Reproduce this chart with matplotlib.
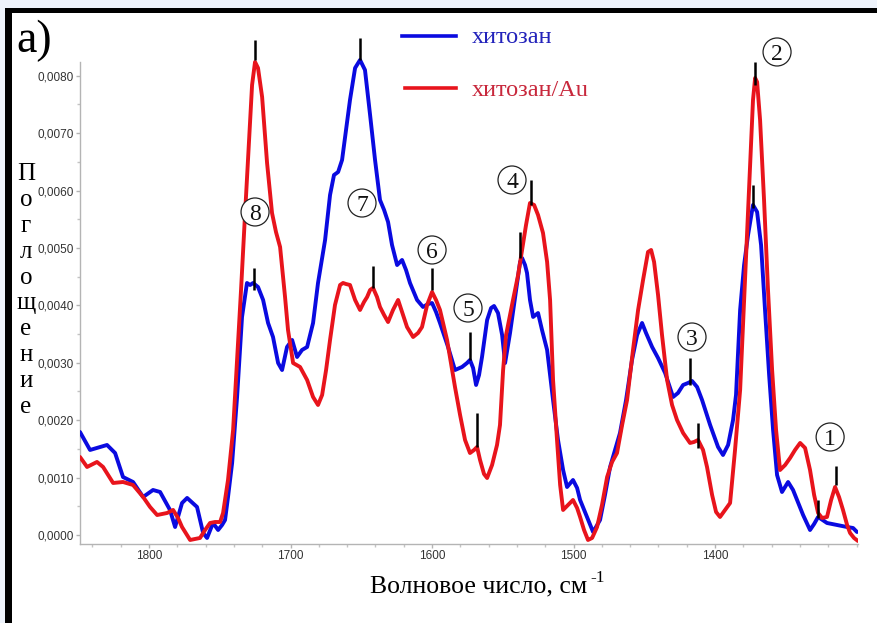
import matplotlib
matplotlib.use('Agg')
import matplotlib.pyplot as plt
import numpy as np
from matplotlib.patches import Rectangle, Ellipse
from matplotlib.lines import Line2D
from matplotlib.ticker import FixedLocator, MultipleLocator, FuncFormatter

# ---------------- data (wavenumber, cm^-1 ; absorbance x 1e-3) ----------------
wn_blue = [1848.8, 1841.7, 1834.6, 1829.7, 1824.0, 1818.4, 1811.3, 1804.2, 1797.2, 1792.2,
           1785.2, 1781.6, 1776.7, 1773.1, 1766.1, 1761.8, 1759.0, 1754.8, 1751.2, 1748.4,
           1746.3, 1744.2, 1741.3, 1737.8, 1734.3, 1730.8, 1728.6, 1726.5, 1723.0, 1719.4,
           1715.9, 1712.4, 1708.8, 1706.0, 1702.5, 1698.9, 1695.4, 1691.9, 1688.3, 1684.1,
           1680.6, 1675.6, 1672.1, 1669.3, 1666.4, 1663.6, 1660.8, 1658.0, 1654.4, 1650.9,
           1647.4, 1643.8, 1640.3, 1636.8, 1633.9, 1631.1, 1628.3, 1624.7, 1621.2, 1618.4,
           1615.6, 1610.6, 1606.4, 1602.8, 1600.0, 1597.2, 1594.4, 1588.7, 1583.8, 1578.8,
           1575.3, 1573.2, 1571.0, 1568.9, 1566.8, 1564.7, 1561.1, 1558.3, 1556.2, 1553.4,
           1550.5, 1548.4, 1546.3, 1544.9, 1542.1, 1539.9, 1537.8, 1536.4, 1534.3, 1532.9,
           1530.8, 1528.6, 1525.1, 1522.3, 1518.7, 1514.5, 1511.0, 1507.4, 1504.6, 1500.4,
           1497.5, 1495.4, 1490.5, 1486.2, 1481.3, 1477.8, 1474.2, 1470.7, 1467.2, 1462.9,
           1458.7, 1455.1, 1451.6, 1448.8, 1444.5, 1440.3, 1435.3, 1431.8, 1429.7, 1426.2,
           1422.6, 1419.1, 1416.3, 1412.7, 1409.2, 1403.5, 1397.9, 1394.4, 1390.8, 1387.3,
           1385.2, 1382.3, 1379.5, 1376.7, 1373.2, 1370.3, 1367.5, 1364.7, 1361.8, 1359.0,
           1356.2, 1352.7, 1348.4, 1344.9, 1342.1, 1337.8, 1332.9, 1330.0, 1327.2, 1320.9,
           1313.8, 1306.7, 1302.5, 1299.7]
abs_blue_milli = [1.794, 1.481, 1.533, 1.568, 1.428, 1.010, 0.923, 0.662, 0.784, 0.749,
                  0.436, 0.139, 0.557, 0.645, 0.488, 0.035, -0.052, 0.209, 0.087, 0.174,
                  0.261, 0.662, 1.254, 2.404, 3.798, 4.390, 4.355, 4.390, 4.320, 4.094,
                  3.693, 3.449, 2.996, 2.874, 3.275, 3.397, 3.101, 3.223, 3.275, 3.693,
                  4.390, 5.139, 5.923, 6.271, 6.323, 6.533, 7.055, 7.578, 8.135, 8.275,
                  8.100, 7.316, 6.533, 5.836, 5.662, 5.452, 5.052, 4.703, 4.791, 4.616,
                  4.390, 4.094, 3.972, 4.024, 4.041, 3.885, 3.693, 3.275, 2.874, 2.927,
                  2.996, 3.049, 2.909, 2.613, 2.787, 3.101, 3.745, 3.954, 3.989, 3.867,
                  3.484, 2.996, 3.310, 3.519, 4.007, 4.390, 4.756, 4.825, 4.703, 4.564,
                  4.094, 3.798, 3.867, 3.571, 3.223, 2.352, 1.655, 1.132, 0.836, 0.958,
                  0.819, 0.610, 0.314, 0.052, 0.261, 0.697, 1.185, 1.481, 1.777, 2.352,
                  3.049, 3.484, 3.693, 3.519, 3.275, 3.083, 2.822, 2.561, 2.404, 2.474,
                  2.613, 2.648, 2.683, 2.578, 2.352, 1.916, 1.533, 1.394, 1.568, 2.003,
                  2.439, 3.920, 4.703, 5.226, 5.749, 5.627, 5.052, 3.920, 2.787, 1.829,
                  1.045, 0.749, 0.923, 0.784, 0.610, 0.348, 0.087, 0.192, 0.314, 0.209,
                  0.174, 0.139, 0.122, 0.052]

wn_red = [1848.8, 1843.8, 1836.8, 1832.5, 1825.4, 1818.4, 1811.3, 1804.2, 1799.3, 1794.3,
          1787.3, 1783.0, 1779.5, 1776.7, 1771.0, 1764.0, 1760.4, 1756.9, 1753.4, 1749.8,
          1747.7, 1744.2, 1740.6, 1737.8, 1735.0, 1732.2, 1729.3, 1727.2, 1725.1, 1723.0,
          1720.1, 1716.6, 1713.1, 1710.3, 1707.4, 1703.9, 1701.8, 1698.2, 1693.3, 1688.3,
          1684.1, 1680.6, 1677.7, 1674.9, 1672.1, 1668.6, 1665.0, 1662.9, 1660.8, 1658.0,
          1654.4, 1650.9, 1648.1, 1645.9, 1643.8, 1641.7, 1638.9, 1636.8, 1633.9, 1631.1,
          1627.6, 1624.0, 1621.2, 1617.7, 1613.4, 1609.9, 1607.1, 1603.5, 1600.0, 1597.2,
          1594.4, 1589.4, 1583.8, 1580.2, 1576.7, 1573.2, 1570.3, 1568.2, 1566.1, 1563.3,
          1561.1, 1557.6, 1554.1, 1552.0, 1549.8, 1547.7, 1544.9, 1542.8, 1539.2, 1536.4,
          1533.6, 1530.8, 1527.9, 1525.1, 1521.6, 1518.7, 1516.6, 1514.5, 1511.7, 1509.5,
          1507.4, 1503.9, 1500.4, 1497.5, 1495.4, 1492.6, 1489.8, 1486.9, 1483.4, 1479.9,
          1476.3, 1472.8, 1469.3, 1465.7, 1462.2, 1458.0, 1454.4, 1450.9, 1447.4, 1445.2,
          1443.1, 1440.3, 1437.5, 1433.9, 1430.4, 1426.9, 1422.6, 1417.7, 1414.9, 1412.0,
          1408.5, 1405.7, 1402.1, 1399.3, 1396.5, 1392.9, 1389.4, 1385.9, 1382.3, 1379.5,
          1376.7, 1374.6, 1373.2, 1371.7, 1370.3, 1368.2, 1365.4, 1362.6, 1359.7, 1356.9,
          1354.1, 1350.5, 1347.0, 1343.5, 1339.9, 1336.4, 1332.9, 1330.0, 1327.2, 1324.4,
          1320.9, 1318.0, 1315.2, 1312.4, 1309.6, 1306.7, 1304.6, 1301.8, 1299.0]
abs_red_milli = [1.359, 1.185, 1.272, 1.185, 0.906, 0.923, 0.871, 0.662, 0.488, 0.348,
                 0.383, 0.436, 0.296, 0.139, -0.087, -0.052, 0.087, 0.209, 0.226, 0.226,
                 0.383, 0.958, 1.829, 3.049, 4.268, 5.574, 6.881, 7.839, 8.240, 8.135,
                 7.630, 6.480, 5.609, 5.278, 5.017, 4.146, 3.571, 2.996, 2.927, 2.700,
                 2.404, 2.265, 2.439, 2.874, 3.397, 4.007, 4.355, 4.390, 4.372, 4.355,
                 4.094, 3.920, 4.059, 4.146, 4.268, 4.303, 4.146, 3.972, 3.832, 3.710,
                 3.920, 4.094, 3.885, 3.623, 3.449, 3.519, 3.623, 4.007, 4.233, 4.094,
                 3.920, 3.397, 2.578, 2.090, 1.655, 1.428, 1.481, 1.533, 1.307, 1.063,
                 0.993, 1.219, 1.568, 1.916, 2.874, 3.484, 3.832, 4.094, 4.529, 4.965,
                 5.400, 5.783, 5.749, 5.574, 5.261, 4.756, 4.094, 2.700, 1.655, 0.871,
                 0.436, 0.523, 0.610, 0.470, 0.314, 0.087, -0.087, -0.052, 0.139, 0.523,
                 1.010, 1.272, 1.428, 1.916, 2.352, 3.223, 3.920, 4.442, 4.930, 4.965,
                 4.756, 4.181, 3.484, 2.700, 2.265, 2.003, 1.777, 1.603, 1.620, 1.655,
                 1.481, 1.185, 0.697, 0.401, 0.314, 0.436, 0.557, 1.481, 2.526, 4.094,
                 5.662, 6.881, 7.578, 7.961, 7.891, 7.229, 5.836, 4.268, 2.874, 1.829,
                 1.132, 1.219, 1.341, 1.481, 1.603, 1.516, 1.132, 0.697, 0.383, 0.296,
                 0.314, 0.610, 0.836, 0.662, 0.436, 0.174, 0.035, -0.052, -0.105]

series_labels = ['хитозан', 'хитозан/Au']
x_ticks = [1800, 1700, 1600, 1500, 1400]
y_ticks = [0.0000, 0.0010, 0.0020, 0.0030, 0.0040, 0.0050, 0.0060, 0.0070, 0.0080]
y_minor_ticks = [0.0005, 0.0015, 0.0025, 0.0035, 0.0045, 0.0055, 0.0065, 0.0075]

# peak markers: (wavenumber, lower absorbance, upper absorbance) x 1e-3
peak_marks = [(1725.1, 8.28, 8.62), (1725.8, 4.27, 4.65), (1650.9, 8.28, 8.66),
              (1641.7, 4.30, 4.69), (1600.0, 4.27, 4.65), (1573.2, 3.05, 3.54),
              (1568.2, 1.53, 2.13), (1537.8, 4.83, 5.28), (1530.1, 5.75, 6.18),
              (1417.7, 2.61, 3.08), (1412.0, 1.52, 1.95), (1371.7, 7.84, 8.24),
              (1373.2, 5.70, 6.10), (1314.5, 0.87, 1.20), (1327.2, 0.30, 0.61)]
# circled band numbers: (label, wavenumber, absorbance x 1e-3)
band_labels = [('1', 1318.7, 1.707), ('2', 1356.2, 8.414), ('3', 1416.3, 3.449),
               ('4', 1543.5, 6.184), ('5', 1574.6, 3.954), ('6', 1600.0, 4.965),
               ('7', 1649.5, 5.783), ('8', 1725.1, 5.627)]

# ---------------- figure ----------------
W, H = 877, 623
fig = plt.figure(figsize=(W / 100, H / 100), dpi=100)
fig.patch.set_facecolor('#eef3fb')

def fx(x):
    return x / W

def fy(y):
    return 1 - y / H

SERIF = ['Liberation Serif', 'DejaVu Serif']
SANS = ['Liberation Sans', 'DejaVu Sans']
BLUE = '#0a0ae0'
RED = '#e8141c'

# white panel with black top/left frame
fig.patches.append(Rectangle((fx(5), 0), 1 - fx(5), fy(8), transform=fig.transFigure,
                             facecolor='white', edgecolor='none', zorder=-2))
fig.patches.append(Rectangle((fx(5), fy(13)), 1 - fx(5), 5 / H, transform=fig.transFigure,
                             facecolor='black', edgecolor='none', zorder=-1))
fig.patches.append(Rectangle((fx(5), 0), 7 / W, fy(8), transform=fig.transFigure,
                             facecolor='black', edgecolor='none', zorder=-1))

ax = fig.add_axes([fx(80), fy(544), fx(858) - fx(80), (544 - 30) / H])
ax.patch.set_alpha(0)

ax.plot(wn_blue, np.array(abs_blue_milli) * 1e-3, color=BLUE, lw=2.8,
        solid_joinstyle='round', solid_capstyle='round', zorder=3)
ax.plot(wn_red, np.array(abs_red_milli) * 1e-3, color=RED, lw=2.8,
        solid_joinstyle='round', solid_capstyle='round', zorder=4)

for w, lo, hi in peak_marks:
    ax.plot([w, w], [lo * 1e-3, hi * 1e-3], color='black', lw=1.8, zorder=5,
            solid_capstyle='butt')

ax.set_xlim(1848.8, 1299.0)
ax.set_ylim(-0.000157, 0.008797)

# circled numbers
cw = 28 * 0.7067
ch = 28 * 0.01742e-3
for lab, w, a in band_labels:
    ax.add_patch(Ellipse((w, a * 1e-3), cw, ch, facecolor='white', edgecolor='#222222',
                         lw=0.9, zorder=6))
    ax.text(w, a * 1e-3, lab, ha='center', va='center_baseline', fontsize=17,
            family=SERIF, color='#111111', zorder=7)

# axes styling
for s in ['top', 'right']:
    ax.spines[s].set_visible(False)
for s in ['left', 'bottom']:
    ax.spines[s].set_color('#b4b4b4')
    ax.spines[s].set_linewidth(1.0)
ax.spines['left'].set_bounds(-0.000157, 0.00824)

ax.xaxis.set_major_locator(FixedLocator(x_ticks))
ax.xaxis.set_minor_locator(MultipleLocator(20))
ax.yaxis.set_major_locator(FixedLocator(y_ticks))
ax.yaxis.set_minor_locator(FixedLocator(y_minor_ticks))
ax.yaxis.set_major_formatter(FuncFormatter(lambda v, p: f"{v:.4f}".replace('.', ',')))
ax.xaxis.set_major_formatter(FuncFormatter(lambda v, p: f"{v:.0f}"))
ax.tick_params(axis='both', which='major', length=3, width=1, color='#b4b4b4',
               labelsize=8.5, labelcolor='#333333', pad=1.5)
ax.tick_params(axis='both', which='minor', length=2, width=1, color='#c4c4c4')
for lbl in ax.get_xticklabels() + ax.get_yticklabels():
    lbl.set_family(SANS)

# panel letter
fig.text(fx(16), fy(52), 'а)', fontsize=33, family=SERIF, va='baseline', ha='left')

# vertical stacked y label
ylabel = 'Поглощение'
for i, ch_ in enumerate(ylabel):
    fig.text(fx(26), fy(180 + i * 25.9), ch_, fontsize=18, family=SERIF,
             ha='center', va='baseline')

# x label with superscript
renderer = fig.canvas.get_renderer()
xl = fig.text(fx(479), fy(592), 'Волновое число, см', fontsize=18.5, family=SERIF,
              ha='center', va='baseline')
bb = xl.get_window_extent(renderer=renderer)
fig.text(bb.x1 / W + 3 / W, fy(582), '-1', fontsize=12.5, family=SERIF,
         ha='left', va='baseline')

# legend
fig.lines.append(Line2D([fx(402), fx(456)], [fy(36), fy(36)], transform=fig.transFigure,
                        color=BLUE, lw=2.6))
fig.lines.append(Line2D([fx(405), fx(456)], [fy(88), fy(88)], transform=fig.transFigure,
                        color=RED, lw=2.6))
fig.text(fx(472), fy(43), series_labels[0], fontsize=17.5, family=SERIF, color='#2323bb',
         ha='left', va='baseline')
fig.text(fx(472), fy(96), series_labels[1], fontsize=17.5, family=SERIF, color='#c8283c',
         ha='left', va='baseline')

fig.savefig('out.png', dpi=100, facecolor=fig.get_facecolor())
